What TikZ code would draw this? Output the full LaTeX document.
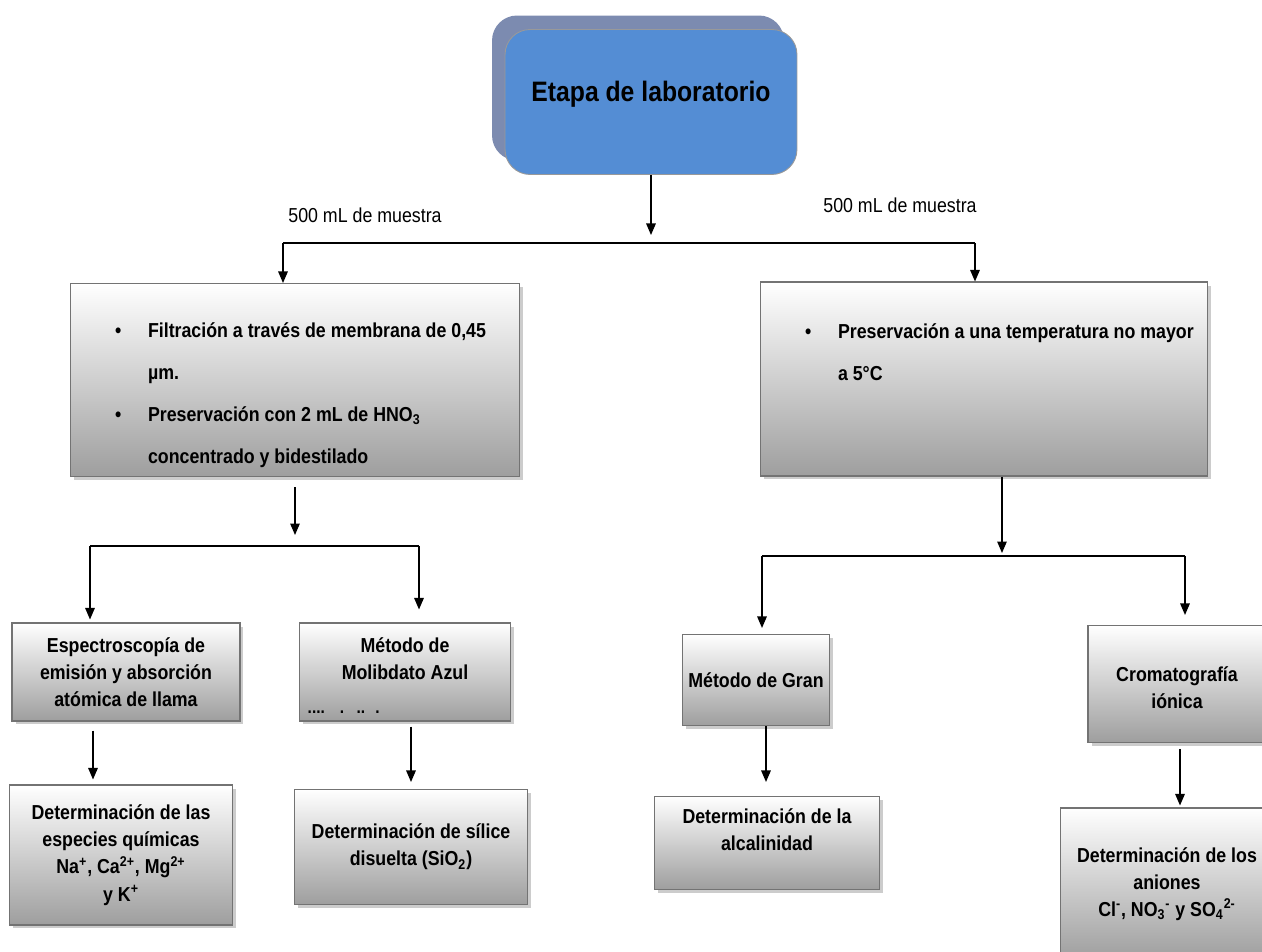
\documentclass[tikz,border=0pt]{standalone}
\usepackage{fontspec}
\setmainfont{Liberation Sans}[FakeStretch=0.88]
\usetikzlibrary{arrows.meta,shadows}
\definecolor{azulTitulo}{RGB}{84,141,212}
\definecolor{sombraTitulo}{RGB}{124,139,176}
\begin{document}
\begin{tikzpicture}[x=0.02cm, y=-0.02cm, >={Triangle[length=2.3mm,width=1.9mm]}, line width=0.8pt,
  caja/.style={draw=black!55, line width=0.6pt, top color=white, bottom color=black!38,
    drop shadow={shadow xshift=0.7mm, shadow yshift=-0.7mm, fill=black!40, opacity=0.5},
    inner sep=0pt, align=center, font=\bfseries\fontsize{11.5}{15.5}\selectfont},
  titulo/.style={draw=black!40, line width=0.5pt, fill=azulTitulo, rounded corners=0.5cm,
    minimum width=5.84cm, minimum height=2.9cm, text height=0.42cm, text depth=0.42cm,
    font=\bfseries\fontsize{16}{19}\selectfont,
    drop shadow={shadow xshift=-0.26cm, shadow yshift=0.28cm, fill=sombraTitulo, opacity=1}},
  etiqueta/.style={font=\fontsize{11.5}{14}\selectfont}]
\useasboundingbox (0,0) rectangle (1262,952);

% nivel superior
\node[titulo] (etapa) at (651,102) {Etapa de laboratorio};
\node[etiqueta] (muestraIzq) at (365,215) {500 mL de muestra};
\node[etiqueta] (muestraDer) at (900,205) {500 mL de muestra};

% tratamientos
\node[caja, minimum width=9cm, minimum height=3.86cm] (filtra) at (295,380) {%
  \parbox[c][3.86cm][t]{9cm}{\vspace*{0.49cm}%
  \renewcommand{\arraystretch}{1.54}%
  \begin{tabular}{@{\hspace{0.9cm}}p{0.66cm}@{}p{7.4cm}@{}}
  \textbullet & Filtración a través de membrana de 0,45\\
  & µm.\\
  \textbullet & Preservación con 2 mL de HNO\textsubscript{3}\\
  & concentrado y bidestilado
  \end{tabular}}};
\node[caja, minimum width=8.96cm, minimum height=3.88cm] (preserva) at (984,379) {%
  \parbox[c][3.88cm][t]{8.96cm}{\vspace*{0.54cm}%
  \renewcommand{\arraystretch}{1.54}%
  \begin{tabular}{@{\hspace{0.9cm}}p{0.66cm}@{}p{7.4cm}@{}}
  \textbullet & Preservación a una temperatura no mayor\\
  & a 5°C
  \end{tabular}}};

% metodos
\node[caja, minimum width=4.56cm, minimum height=1.96cm] (espectro) at (126,672)
  {Espectroscopía de\\emisión y absorción\\atómica de llama};
\node[caja, minimum width=4.22cm, minimum height=1.96cm] (molib) at (405,672)
  {Método de\\Molibdato Azul\\\mbox{}};
\node[anchor=west, inner sep=0pt, font=\bfseries\fontsize{10}{11}\selectfont] (molibPuntos) at (307,712)
  {....\hspace{0.3cm}.\hspace{0.25cm}..\hspace{0.2cm}.};
\node[caja, minimum width=2.94cm, minimum height=1.82cm] (gran) at (756,680)
  {Método de Gran};
\node[caja, minimum width=3.56cm, minimum height=2.34cm] (cromato) at (1177,684)
  {\\[-0.1cm]Cromatografía\\iónica};

% determinaciones
\node[caja, minimum width=4.46cm, minimum height=2.8cm] (determEsp) at (121,855)
  {Determinación de las\\especies químicas\\Na\textsuperscript{+}, Ca\textsuperscript{2+}, Mg\textsuperscript{2+}\\y K\textsuperscript{+}};
\node[caja, minimum width=4.66cm, minimum height=2.3cm] (determSil) at (411,847)
  {Determinación de sílice\\disuelta (SiO\textsubscript{2})};
\node[caja, minimum width=4.5cm, minimum height=1.86cm] (determAlc) at (767,843)
  {Determinación de la\\alcalinidad\\\mbox{}};
\node[caja, minimum width=4.28cm, minimum height=3.04cm] (determAni) at (1167,884)
  {Determinación de los\\aniones\\Cl\textsuperscript{-}, NO\textsubscript{3}\textsuperscript{-} y SO\textsubscript{4}\textsuperscript{2-}};

% puntos de ramificacion
\coordinate (bifurca) at (651,243);
\coordinate (ramaIzq) at (283,243);
\coordinate (ramaDer) at (975,243);
\coordinate (ramaA1) at (90,546);
\coordinate (ramaA2) at (419,546);
\coordinate (bajadaB) at (1002,556);
\coordinate (ramaB1) at (762,556);
\coordinate (ramaB2) at (1185,556);
\coordinate (xEsp) at (93,0);
\coordinate (xSil) at (411,0);
\coordinate (xAlc) at (766,0);
\coordinate (xAni) at (1180,0);

% conectores
\draw[->, shorten >=0.16cm] (etapa.south) -- (bifurca);
\draw (ramaIzq) -- (ramaDer);
\draw[->] (ramaIzq) -- (ramaIzq |- filtra.north);
\draw[->] (ramaDer) -- (ramaDer |- preserva.north);

\draw[->, shorten <=0.2cm, shorten >=0.22cm] (filtra.south) -- (filtra.south |- ramaA1);
\draw (ramaA1) -- (ramaA2);
\draw[->, shorten >=0.06cm] (ramaA1) -- (ramaA1 |- espectro.north);
\draw[->, shorten >=0.26cm] (ramaA2) -- (ramaA2 |- molib.north);

\draw[->, shorten >=0.06cm] (preserva.south -| bajadaB) -- (bajadaB);
\draw (ramaB1) -- (ramaB2);
\draw[->, shorten >=0.12cm] (ramaB1) -- (ramaB1 |- gran.north);
\draw[->, shorten >=0.2cm] (ramaB2) -- (ramaB2 |- cromato.north);

\draw[->, shorten <=0.18cm, shorten >=0.1cm] (espectro.south -| xEsp) -- (determEsp.north -| xEsp);
\draw[->, shorten <=0.1cm, shorten >=0.14cm] (molib.south -| xSil) -- (determSil.north -| xSil);
\draw[->, shorten >=0.28cm] (gran.south -| xAlc) -- (determAlc.north -| xAlc);
\draw[->, shorten <=0.12cm, shorten >=0.04cm] (cromato.south -| xAni) -- (determAni.north -| xAni);
\end{tikzpicture}
\end{document}
